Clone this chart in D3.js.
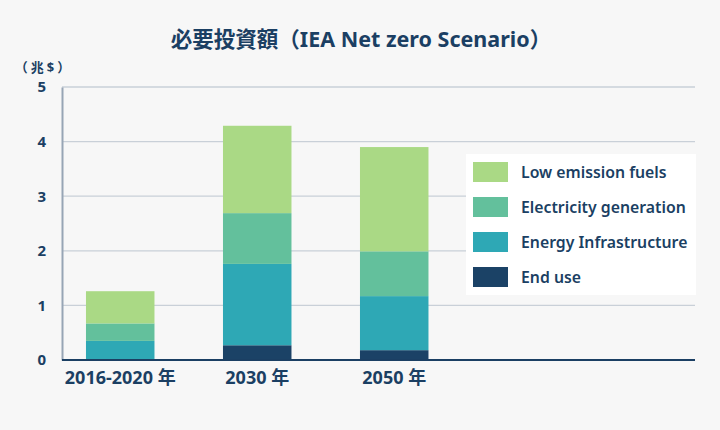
<!DOCTYPE html>
<html><head><meta charset="utf-8">
<script src="https://cdn.jsdelivr.net/npm/d3@7"></script>
<style>
html,body{margin:0;padding:0;background:#f7f7f7;}
svg{display:block;font-family:"Noto Sans","Noto Sans CJK JP",sans-serif;}
</style></head>
<body>
<svg id="c" width="720" height="430"></svg>
<script>
const categories = ["2016-2020 年", "2030 年", "2050 年"];
const seriesNames = ["End use", "Energy Infrastructure", "Electricity generation", "Low emission fuels"];
const endUse = [0, 0.27, 0.18];
const energyInfra = [0.35, 1.49, 0.99];
const electricity = [0.32, 0.93, 0.82];
const lowEmission = [0.59, 1.60, 1.91];
const yTicks = [0, 1, 2, 3, 4, 5];
const colors = ["#1b4266", "#2ea8b5", "#63c09c", "#aad985"];

const FONT = "'Noto Sans','Noto Sans CJK JP',sans-serif";
const svg = d3.select("#c");
const navy = "#1b3f63";
const data = categories.map((c, i) => ({cat: c, "End use": endUse[i], "Energy Infrastructure": energyInfra[i], "Electricity generation": electricity[i], "Low emission fuels": lowEmission[i]}));
const stack = d3.stack().keys(seriesNames)(data);

const x0 = 62, gridRight = 695;
const x = d3.scaleBand().domain(categories).range([x0, x0 + 137 * 2.85]).paddingInner(0.5).paddingOuter(0.175);
const y = d3.scaleLinear().domain([0, 5]).range([360, 87]);

// grid
svg.append("g").selectAll("line").data(yTicks.filter(d => d > 0)).join("line")
  .attr("x1", x0).attr("x2", gridRight).attr("y1", d => y(d)).attr("y2", d => y(d))
  .attr("stroke", "#c9d0d8").attr("stroke-width", 1.3);

// bars
svg.append("g").selectAll("g").data(stack).join("g").attr("fill", (d, i) => colors[i])
  .selectAll("rect").data(d => d).join("rect")
  .attr("x", d => x(d.data.cat)).attr("width", x.bandwidth())
  .attr("y", d => y(d[1])).attr("height", d => y(d[0]) - y(d[1]));

// y axis
const yAxis = svg.append("g").attr("transform", `translate(${x0},0)`)
  .call(d3.axisLeft(y).tickValues(yTicks).tickFormat(d3.format("d")).tickSize(0).tickPadding(16));
yAxis.select(".domain").attr("stroke", "#97a5b5").attr("stroke-width", 2);
yAxis.selectAll("text").attr("fill", navy).attr("font-size", 15).attr("font-weight", 700).attr("font-family", FONT);

// x axis
const xAxis = svg.append("g").attr("transform", `translate(0,${y(0)})`)
  .call(d3.axisBottom(x).tickSize(0).tickPadding(11));
xAxis.select(".domain").attr("stroke", navy).attr("stroke-width", 2).attr("d", `M${x0},0H${gridRight}`);
xAxis.selectAll("text").attr("fill", navy).attr("font-size", 18).attr("font-weight", 700).attr("font-family", FONT);

// unit
svg.append("text").attr("x", 44).attr("y", 72).attr("text-anchor", "middle")
  .attr("fill", navy).attr("font-size", 13).attr("font-weight", 700).attr("letter-spacing", 3).text("（兆$）");

// title
svg.append("text").attr("x", 361).attr("y", 47).attr("text-anchor", "middle")
  .attr("fill", navy).attr("font-size", 21.5).attr("font-weight", 700).text("必要投資額（IEA Net zero Scenario）");

// legend
const lg = svg.append("g");
lg.append("rect").attr("x", 466).attr("y", 154).attr("width", 230).attr("height", 141).attr("fill", "#ffffff");
const legendOrder = ["Low emission fuels", "Electricity generation", "Energy Infrastructure", "End use"];
legendOrder.forEach((name, i) => {
  const ci = seriesNames.indexOf(name);
  lg.append("rect").attr("x", 473).attr("y", 162 + i * 35).attr("width", 35).attr("height", 20).attr("fill", colors[ci]);
  lg.append("text").attr("x", 521).attr("y", 172 + i * 35).attr("dy", "0.35em")
    .attr("fill", navy).attr("font-size", 15.8).attr("font-weight", 600).text(name);
});
</script>
</body></html>
